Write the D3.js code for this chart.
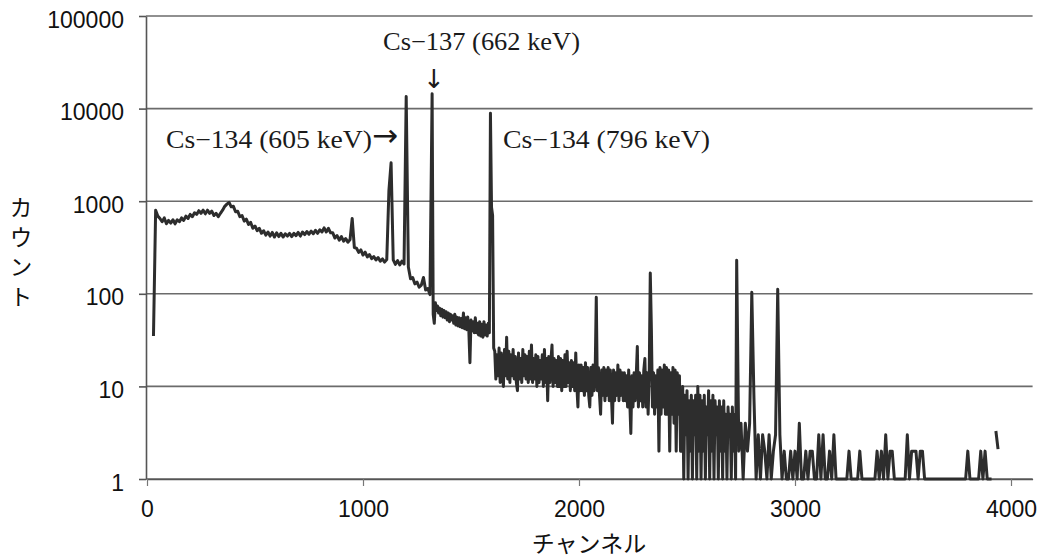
<!DOCTYPE html>
<html>
<head>
<meta charset="utf-8">
<script src="https://cdn.jsdelivr.net/npm/d3@7"></script>
<style>
  html, body { margin: 0; padding: 0; background: #fff; }
  svg { display: block; }
</style>
</head>
<body>
<svg id="chart"></svg>
<script>
const W = 1043, H = 560;

// 30 - 1020 ch, every 10 ch : compton continuum
const lowStart = 30, lowStep = 10;
const lowCounts = [
  35, 800, 690, 650, 600, 660, 570, 620, 580, 630,
  570, 630, 600, 660, 620, 690, 650, 720, 680, 750,
  720, 790, 740, 800, 730, 800, 740, 780, 700, 740,
  680, 740, 800, 880, 930, 970, 870, 880, 770, 780,
  680, 700, 610, 640, 560, 590, 510, 540, 480, 510,
  450, 480, 430, 465, 420, 460, 410, 455, 415, 450,
  410, 445, 420, 450, 415, 450, 425, 460, 420, 465,
  435, 470, 440, 475, 445, 485, 450, 490, 465, 515,
  465, 510, 455, 455, 400, 425, 380, 415, 370, 395,
  360, 385, 650, 315, 310, 280, 298, 262, 282, 250
];

// 1030 - 1320 ch, every 10 ch : Cs-134 605 keV and Cs-137
const peakStart = 1030, peakStep = 10;
const peakCounts = [
  265, 240, 252, 232, 246, 225, 238, 220, 234, 1300,
  2600, 232, 208, 228, 205, 225, 210, 13500, 195, 145,
  150, 128, 134, 118, 124, 150, 110, 114, 98, 14500
];

// 1325 - 2725 ch, every 5 ch : noisy band with Cs-134 796 keV
const bandStart = 1325, bandStep = 5;
const bandCounts = [
  60, 48, 80, 66, 74, 62, 70, 58, 68, 56,
  66, 55, 64, 52, 62, 50, 60, 52, 58, 48,
  60, 46, 56, 45, 55, 44, 54, 43, 62, 42,
  55, 41, 56, 40, 18, 52, 40, 50, 38, 55,
  38, 48, 36, 50, 35, 47, 34, 50, 36, 46,
  35, 48, 38, 8900, 860, 700, 26,
  24, 12, 22, 13, 26, 11, 23, 14, 10, 25,
  13, 34, 12, 24, 11, 22, 13, 25, 12, 21,
  11, 9, 23, 12, 20, 11, 25, 13, 22, 12,
  21, 11, 24, 12, 28, 11, 20, 12, 22, 10,
  21, 11, 19, 12, 22, 10, 25, 11, 20, 7,
  21, 11, 19, 28, 10, 20, 11, 19, 10, 21,
  10, 20, 9, 19, 10, 22, 10, 24, 11, 18,
  9, 19, 10, 18, 9, 23, 10, 6, 17, 9,
  17, 9, 16, 8, 18, 9, 16, 8, 6, 16,
  8, 17, 9, 15, 92, 9, 16, 8, 5, 15,
  8, 16, 7, 15, 8, 16, 7, 15, 8, 4,
  15, 7, 14, 8, 17, 7, 15, 8, 14, 7,
  14, 7, 13, 6, 15, 7, 3.1, 13, 6, 14,
  7, 13, 27, 6, 14, 7, 13, 6, 15, 20,
  6, 14, 5, 13, 168, 43, 6, 14, 5, 13,
  6, 15, 2, 16, 5, 15, 6, 17, 5, 16,
  5, 15, 2, 14, 5, 16, 4, 15, 2, 14,
  5, 13, 2,
  2, 10, 1, 8, 3, 9, 1, 7, 2, 8,
  1, 7, 3, 8, 1, 10, 2, 8, 1, 7,
  2, 8, 1, 6, 3, 9, 1, 7, 2, 8,
  1, 7, 3, 6, 1, 7, 2, 6, 1, 7,
  2, 5, 1, 6, 3, 5, 1, 6, 2, 5,
  1
];

// 2730 - 3940 ch, every 10 ch : sparse counts (0 = no count)
const sparseStart = 2730, sparseStep = 10;
const sparseCounts = [
  230, 2, 4, 1, 4,
  2, 4, 104, 7.5, 1, 3, 1, 3, 2, 1,
  3, 1, 2, 3, 112, 3, 1, 2, 1, 1,
  2, 1, 2, 1, 4, 1, 1, 2, 1, 2,
  2, 1, 1, 3, 1, 3, 1, 1, 2, 1,
  3, 1, 1, 1, 1, 1, 1, 2, 1, 1,
  1, 1, 2, 1, 1, 1, 1, 1, 1, 1,
  2, 1, 2, 1, 3, 1, 2, 2, 1, 1,
  1, 1, 1, 1, 3, 1, 2, 2, 2, 1,
  2, 2, 1, 1, 1, 1, 1, 1, 1, 1,
  1, 1, 1, 1, 1, 1, 1, 1, 1, 1,
  1, 1, 2, 1, 1, 1, 1, 1, 2, 1,
  2, 1, 1, 1, 0, 3.3, 2.1
];

const yTicks = [1, 10, 100, 1000, 10000, 100000];
const xTicks = [0, 1000, 2000, 3000, 4000];
const xTitle = "チャンネル";
const yTitle = "カウント";
const peakLabels = ["Cs−137 (662 keV)", "Cs−134 (605 keV)", "Cs−134 (796 keV)"];

function toPoints(start, step, counts) {
  return counts.map((c, i) => ({ ch: start + i * step, count: c }));
}

const spectrum = [].concat(
  toPoints(lowStart, lowStep, lowCounts),
  toPoints(peakStart, peakStep, peakCounts),
  toPoints(bandStart, bandStep, bandCounts),
  toPoints(sparseStart, sparseStep, sparseCounts)
);

const plotLeft = 147, plotRight = 1032.6, plotTop = 16, plotBottom = 479;

const svg = d3.select("#chart")
  .attr("width", W)
  .attr("height", H);

svg.append("rect").attr("width", W).attr("height", H).attr("fill", "#fff");

const x = d3.scaleLinear().domain([0, 4100]).range([plotLeft, plotRight]);
const y = d3.scaleLog().domain([1, 100000]).range([plotBottom, plotTop]);

// horizontal grid
svg.append("g")
  .selectAll("line")
  .data(yTicks)
  .join("line")
  .attr("x1", plotLeft - 1)
  .attr("x2", plotRight)
  .attr("y1", d => y(d))
  .attr("y2", d => y(d))
  .attr("stroke", "#6b6b6b")
  .attr("stroke-width", 1.6);

// y axis
const yAxis = d3.axisLeft(y)
  .tickValues(yTicks)
  .tickFormat(d3.format("d"))
  .tickSize(7)
  .tickSizeOuter(0)
  .tickPadding(15);

const gy = svg.append("g")
  .attr("transform", `translate(${plotLeft - 1}, 0)`)
  .call(yAxis);

gy.selectAll("path, line").attr("stroke", "#555").attr("stroke-width", 1.6);
gy.selectAll("text")
  .attr("dy", "0.48em")
  .attr("fill", "#111")
  .style("font-family", "'Liberation Sans', Arial, sans-serif")
  .style("font-size", "23px");

// x axis
const xAxis = d3.axisBottom(x)
  .tickValues(xTicks)
  .tickFormat(d3.format("d"))
  .tickSize(7)
  .tickSizeOuter(0)
  .tickPadding(15);

const gx = svg.append("g")
  .attr("transform", `translate(0, ${plotBottom})`)
  .call(xAxis);

gx.select(".domain").attr("stroke", "#555").attr("stroke-width", 1.6);
gx.selectAll(".tick line").attr("stroke", "#777").attr("stroke-width", 1.2);
gx.selectAll("text")
  .attr("fill", "#111")
  .style("font-family", "'Liberation Sans', Arial, sans-serif")
  .style("font-size", "23px");

// spectrum line
const line = d3.line()
  .defined(d => d.count > 0)
  .x(d => x(d.ch))
  .y(d => y(d.count));

svg.append("path")
  .datum(spectrum)
  .attr("fill", "none")
  .attr("stroke", "#2d2d2d")
  .attr("stroke-width", 3)
  .attr("stroke-linejoin", "round")
  .attr("d", line);

// axis titles
svg.append("text")
  .attr("x", 589)
  .attr("y", 552)
  .attr("text-anchor", "middle")
  .attr("fill", "#111")
  .style("font-family", "'Noto Sans CJK JP', sans-serif")
  .style("font-size", "23px")
  .text(xTitle);

svg.append("text")
  .attr("x", 21)
  .attr("y", 196)
  .attr("fill", "#111")
  .style("writing-mode", "vertical-rl")
  .style("letter-spacing", "6.5px")
  .style("font-family", "'Noto Sans CJK JP', sans-serif")
  .style("font-size", "23px")
  .text(yTitle);

// peak labels
const serif = "'Liberation Serif', 'DejaVu Serif', serif";
const ann = svg.append("g").attr("fill", "#1a1a1a").style("font-family", serif).style("font-size", "25px");

ann.append("text").attr("x", 383).attr("y", 50)
  .attr("textLength", 197).attr("lengthAdjust", "spacingAndGlyphs")
  .text(peakLabels[0]);
ann.append("text").attr("x", 434).attr("y", 88)
  .attr("text-anchor", "middle")
  .style("font-family", "'DejaVu Sans', sans-serif")
  .style("font-size", "26px")
  .text("↓");

ann.append("text").attr("x", 166).attr("y", 148)
  .attr("textLength", 206).attr("lengthAdjust", "spacingAndGlyphs")
  .text(peakLabels[1]);
ann.append("text").attr("x", 372).attr("y", 146)
  .style("font-family", "'DejaVu Sans', sans-serif")
  .style("font-size", "31px")
  .text("→");

ann.append("text").attr("x", 503).attr("y", 148)
  .attr("textLength", 207).attr("lengthAdjust", "spacingAndGlyphs")
  .text(peakLabels[2]);
</script>
</body>
</html>
